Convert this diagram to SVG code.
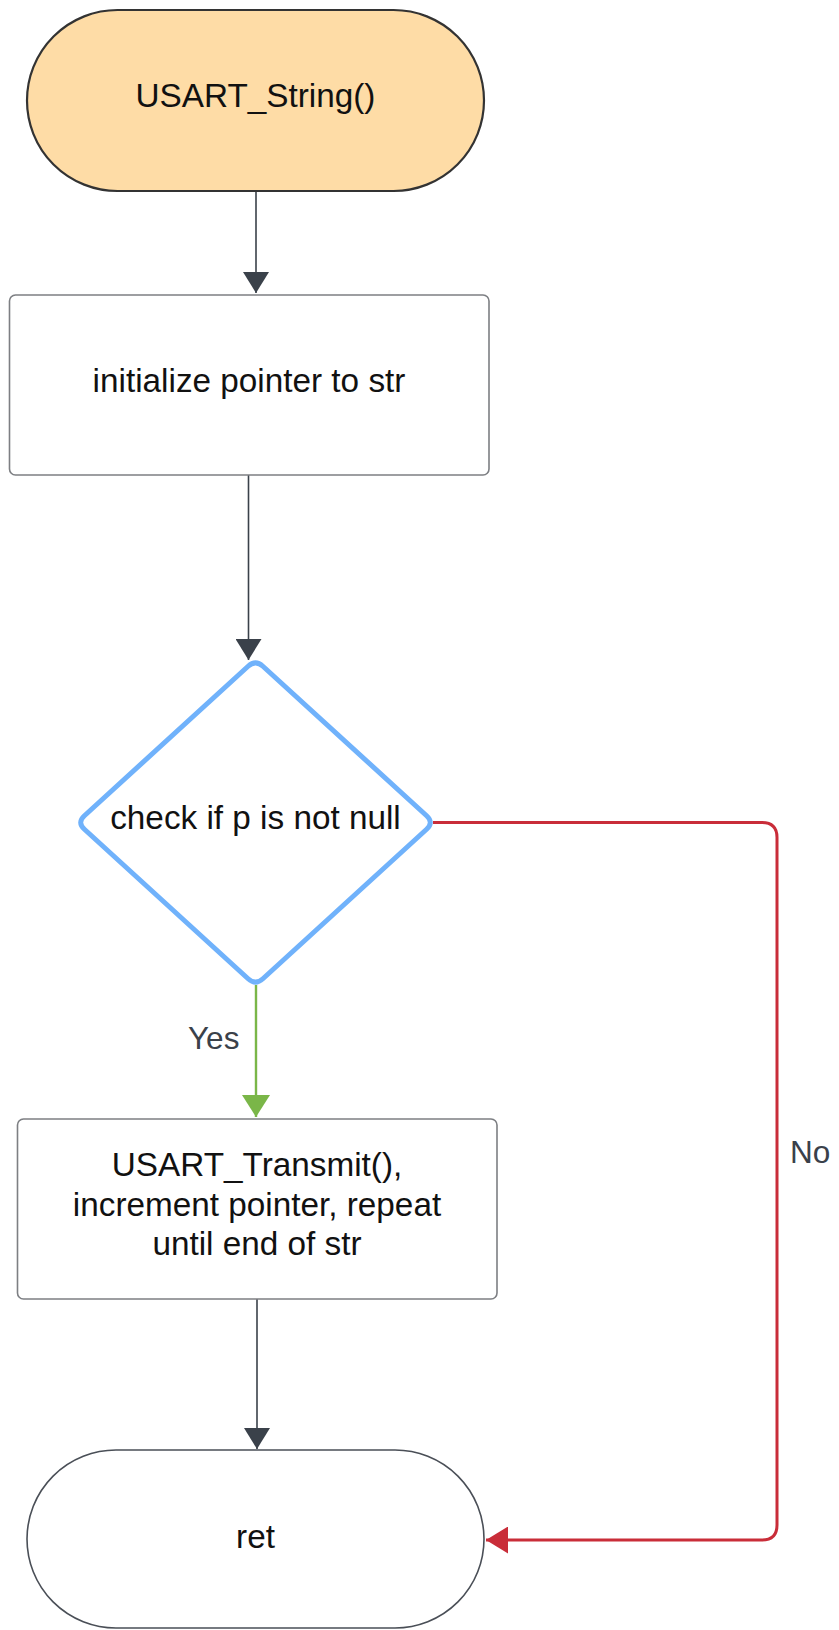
<svg xmlns="http://www.w3.org/2000/svg" width="839" height="1630" viewBox="0 0 839 1630">
  <style>
    .bg { fill: #ffffff; }
    .label { font-family: "Liberation Sans", Arial, sans-serif; font-size: 33.3px; fill: #111111; text-anchor: middle; }
    .edge-label { font-family: "Liberation Sans", Arial, sans-serif; font-size: 31.5px; fill: #3a414a; }
    .start { fill: #fedca6; stroke: #333333; stroke-width: 2.2; }
    .end { fill: #ffffff; stroke: #4a4f57; stroke-width: 1.6; }
    .process { fill: #ffffff; stroke: #7d7f83; stroke-width: 1.6; }
    .decision { fill: #ffffff; stroke: #70b2fb; stroke-width: 5; stroke-linejoin: round; }
    .flow { fill: none; stroke: #3a414a; stroke-width: 1.6; }
    .flow-yes { fill: none; stroke: #7ab648; stroke-width: 2.4; }
    .flow-no { fill: none; stroke: #c92d39; stroke-width: 3; }
  </style>
  <defs>
    <marker id="arrow-dark" viewBox="0 0 21 26" refX="21" refY="13" markerWidth="21" markerHeight="26" markerUnits="userSpaceOnUse" orient="auto">
      <path d="M0,0 L21,13 L0,26 Z" fill="#3a414a"/>
    </marker>
    <marker id="arrow-green" viewBox="0 0 22 28" refX="22" refY="14" markerWidth="22" markerHeight="28" markerUnits="userSpaceOnUse" orient="auto">
      <path d="M0,0 L22,14 L0,28 Z" fill="#7ab648"/>
    </marker>
    <marker id="arrow-red" viewBox="0 0 22 27" refX="22" refY="13.5" markerWidth="22" markerHeight="27" markerUnits="userSpaceOnUse" orient="auto">
      <path d="M0,0 L22,13.5 L0,27 Z" fill="#c92d39"/>
    </marker>
  </defs>

  <rect class="bg" x="0" y="0" width="839" height="1630"/>

  <!-- connectors -->
  <g id="connectors">
    <path class="flow" d="M256,191 L256,293" marker-end="url(#arrow-dark)"/>
    <path class="flow" d="M248.5,475 L248.5,660" marker-end="url(#arrow-dark)"/>
    <path class="flow-yes" d="M256,985 L256,1117" marker-end="url(#arrow-green)"/>
    <path class="flow" d="M257,1299 L257,1449" marker-end="url(#arrow-dark)"/>
    <path class="flow-no" d="M433,822.5 L762,822.5 Q777,822.5 777,837.5 L777,1525 Q777,1540 762,1540 L486,1540" marker-end="url(#arrow-red)"/>
    <text class="edge-label" x="188" y="1049">Yes</text>
    <text class="edge-label" x="790" y="1163">No</text>
  </g>

  <!-- start terminal -->
  <g id="node-start">
    <rect class="start" x="27" y="10" width="457" height="181" rx="90.5" ry="90.5"/>
    <text class="label" x="255.5" y="107">USART_String()</text>
  </g>

  <!-- pointer setup -->
  <g id="node-init">
    <rect class="process" x="9.5" y="295" width="479.5" height="180" rx="6" ry="6"/>
    <text class="label" x="249" y="392">initialize pointer to str</text>
  </g>

  <!-- null check -->
  <g id="node-check">
    <path class="decision" d="M248.11,666.24 Q255.5,659.5 262.89,666.24 L426.61,815.76 Q434,822.5 426.61,829.24 L262.89,978.76 Q255.5,985.5 248.11,978.76 L84.39,829.24 Q77,822.5 84.39,815.76 Z"/>
    <text class="label" x="255.5" y="829">check if p is not null</text>
  </g>

  <!-- transmit loop -->
  <g id="node-transmit">
    <rect class="process" x="17.5" y="1119" width="479.5" height="180" rx="6" ry="6"/>
    <text class="label" x="257" y="1176">USART_Transmit(),</text>
    <text class="label" x="257" y="1215.5">increment pointer, repeat</text>
    <text class="label" x="257" y="1255">until end of str</text>
  </g>

  <!-- end terminal -->
  <g id="node-ret">
    <rect class="end" x="27" y="1450" width="457" height="178" rx="89" ry="89"/>
    <text class="label" x="255.5" y="1548">ret</text>
  </g>
</svg>
